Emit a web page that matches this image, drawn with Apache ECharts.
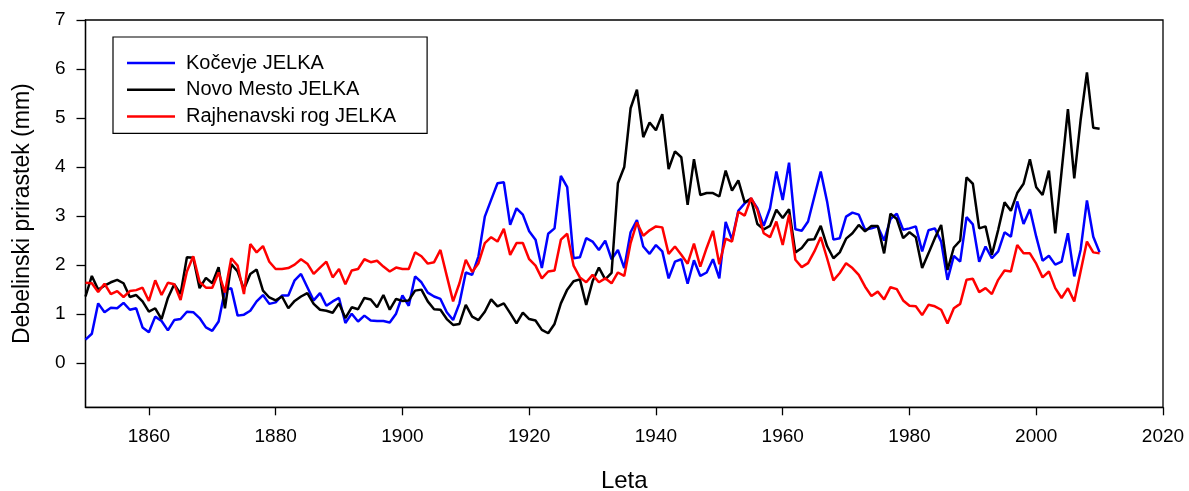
<!DOCTYPE html>
<html>
<head>
<meta charset="utf-8">
<script src="https://cdn.jsdelivr.net/npm/echarts@6/dist/echarts.min.js"></script>
<style>
html,body{margin:0;padding:0;background:#fff;}
#chart{width:1189px;height:491px;}
</style>
</head>
<body>
<div id="chart"></div>
<script>
var START_YEAR = 1850;
var xTicks = [1860, 1880, 1900, 1920, 1940, 1960, 1980, 2000, 2020];
var yTicks = [0, 1, 2, 3, 4, 5, 6, 7];
var seriesNames = ['Kočevje JELKA', 'Novo Mesto JELKA', 'Rajhenavski rog JELKA'];

// Kočevje JELKA, 1850-2010
var kocevje = [
 0.48,0.60,1.22,1.04,1.13,1.12,1.23,1.09,1.12,0.73,
 0.63,0.95,0.86,0.67,0.88,0.90,1.05,1.04,0.92,0.73,
 0.66,0.85,1.49,1.53,0.97,0.99,1.07,1.26,1.39,1.21,
 1.24,1.38,1.38,1.69,1.82,1.55,1.28,1.43,1.17,1.26,
 1.33,0.82,1.01,0.85,0.97,0.87,0.86,0.86,0.83,1.01,
 1.38,1.17,1.77,1.65,1.44,1.36,1.31,1.04,0.88,1.22,
 1.85,1.80,2.18,2.99,3.33,3.67,3.69,2.82,3.16,3.03,
 2.69,2.52,1.94,2.64,2.75,3.82,3.59,2.14,2.16,2.55,
 2.48,2.31,2.50,2.12,2.31,1.94,2.67,2.92,2.38,2.23,
 2.41,2.28,1.73,2.07,2.12,1.62,2.10,1.78,1.85,2.12,
 1.73,2.88,2.52,3.11,3.26,3.36,3.16,2.80,3.16,3.91,
 3.33,4.09,2.73,2.70,2.89,3.40,3.91,3.30,2.52,2.55,
 2.99,3.07,3.03,2.72,2.75,2.79,2.50,2.94,3.05,2.72,
 2.75,2.79,2.28,2.71,2.75,2.48,1.70,2.19,2.07,2.98,
 2.83,2.07,2.38,2.14,2.28,2.67,2.58,3.30,2.84,3.14,
 2.58,2.09,2.19,2.01,2.07,2.65,1.77,2.31,3.32,2.58,
 2.26
];

// Novo Mesto JELKA, 1850-2010
var novoMesto = [
 1.36,1.78,1.50,1.58,1.65,1.70,1.63,1.35,1.39,1.26,
 1.05,1.12,0.90,1.33,1.61,1.41,2.16,2.15,1.53,1.74,
 1.63,1.96,1.12,2.02,1.87,1.51,1.82,1.91,1.48,1.34,
 1.28,1.36,1.12,1.27,1.36,1.43,1.21,1.09,1.07,1.03,
 1.22,0.92,1.14,1.10,1.33,1.30,1.14,1.39,1.09,1.31,
 1.27,1.28,1.48,1.50,1.26,1.10,1.09,0.90,0.78,0.80,
 1.19,0.95,0.88,1.05,1.30,1.16,1.22,1.02,0.81,1.03,
 0.90,0.87,0.68,0.61,0.80,1.22,1.50,1.67,1.71,1.19,
 1.67,1.95,1.71,1.84,3.67,4.00,5.20,5.58,4.61,4.91,
 4.75,5.08,3.96,4.32,4.20,3.23,4.16,3.43,3.47,3.47,
 3.40,3.93,3.52,3.73,3.28,3.35,2.84,2.73,2.80,3.13,
 2.96,3.14,2.26,2.35,2.52,2.53,2.80,2.39,2.14,2.26,
 2.54,2.65,2.82,2.69,2.80,2.80,2.24,3.05,2.94,2.55,
 2.67,2.57,1.94,2.24,2.55,2.82,1.90,2.36,2.50,3.79,
 3.66,2.75,2.79,2.21,2.72,3.28,3.11,3.47,3.66,4.16,
 3.59,3.43,3.93,2.65,3.91,5.18,3.77,4.96,5.93,4.80,
 4.78
];

// Rajhenavski rog JELKA, 1850-2010
var rajhenavski = [
 1.64,1.63,1.45,1.62,1.41,1.47,1.35,1.47,1.49,1.54,
 1.27,1.69,1.39,1.64,1.61,1.29,1.87,2.18,1.66,1.54,
 1.54,1.85,1.44,2.14,1.99,1.41,2.43,2.26,2.39,2.07,
 1.92,1.92,1.94,2.01,2.12,2.03,1.82,1.95,2.07,1.75,
 1.92,1.61,1.89,1.92,2.12,2.06,2.09,1.97,1.87,1.95,
 1.92,1.92,2.26,2.18,2.03,2.06,2.31,1.78,1.26,1.63,
 2.11,1.86,2.04,2.45,2.57,2.48,2.74,2.21,2.45,2.45,
 2.12,1.99,1.73,1.87,1.89,2.52,2.64,1.99,1.75,1.65,
 1.80,1.65,1.73,1.63,1.85,1.78,2.45,2.87,2.60,2.71,
 2.79,2.77,2.23,2.38,2.21,2.03,2.44,1.97,2.35,2.70,
 2.02,2.54,2.48,3.09,3.01,3.37,3.13,2.65,2.57,2.89,
 2.41,3.03,2.11,1.96,2.04,2.28,2.57,2.14,1.69,1.84,
 2.04,1.94,1.80,1.56,1.37,1.46,1.30,1.55,1.51,1.28,
 1.17,1.16,0.98,1.19,1.16,1.09,0.81,1.12,1.21,1.70,
 1.72,1.45,1.53,1.41,1.70,1.89,1.87,2.41,2.24,2.24,
 2.03,1.75,1.87,1.53,1.33,1.53,1.26,1.87,2.48,2.26,
 2.24
];

function pairs(values) {
  return values.map(function (v, i) { return [START_YEAR + i, v]; });
}

var FONT = '"Liberation Sans", Arial, Helvetica, sans-serif';
var chart = echarts.init(document.getElementById('chart'), null, {renderer: 'canvas'});
var colors = ['#0000ff', '#000000', '#ff0000'];
var values = [kocevje, novoMesto, rajhenavski];

chart.setOption({
  animation: false,
  backgroundColor: '#ffffff',
  textStyle: {fontFamily: FONT},
  grid: {
    left: 85.5, right: 26, top: 20, bottom: 83.7,
    show: true, borderColor: '#000', borderWidth: 1.3,
    containLabel: false, outerBoundsMode: 'none'
  },
  legend: {
    orient: 'vertical',
    left: 113, top: 37,
    padding: [16, 31, 7, 14],
    icon: 'rect',
    itemWidth: 48, itemHeight: 2.5, itemGap: 6.7,
    borderColor: '#000', borderWidth: 1.2,
    backgroundColor: '#fff',
    data: seriesNames,
    textStyle: {fontFamily: FONT, fontSize: 20, color: '#000', lineHeight: 20, padding: [0, 0, 0, 6]}
  },
  xAxis: {
    type: 'value', min: 1850, max: 2020,
    name: 'Leta', nameLocation: 'middle', nameGap: 62,
    nameTextStyle: {fontFamily: FONT, fontSize: 24, color: '#000'},
    axisLine: {show: true, onZero: false, lineStyle: {color: '#000', width: 1.3}},
    axisTick: {show: true, length: 8, customValues: xTicks, lineStyle: {color: '#000', width: 1.3}},
    axisLabel: {customValues: xTicks, margin: 20, fontFamily: FONT, fontSize: 19, color: '#000',
      formatter: function (v) { return String(v); }},
    splitLine: {show: false}
  },
  yAxis: {
    type: 'value', min: -0.9, max: 7,
    name: 'Debelinski prirastek (mm)', nameLocation: 'middle', nameGap: 51,
    nameTextStyle: {fontFamily: FONT, fontSize: 23, color: '#000'},
    axisLine: {show: true, onZero: false, lineStyle: {color: '#000', width: 1.3}},
    axisTick: {show: true, length: 9, customValues: yTicks, lineStyle: {color: '#000', width: 1.3}},
    axisLabel: {customValues: yTicks, margin: 20, fontFamily: FONT, fontSize: 19, color: '#000',
      formatter: function (v) { return String(v); }},
    splitLine: {show: false}
  },
  series: seriesNames.map(function (name, k) {
    return {
      name: name, type: 'line', data: pairs(values[k]),
      symbol: 'none', showSymbol: false,
      lineStyle: {color: colors[k], width: 2.5},
      itemStyle: {color: colors[k]},
      z: 2 + k
    };
  })
});
</script>
</body>
</html>
